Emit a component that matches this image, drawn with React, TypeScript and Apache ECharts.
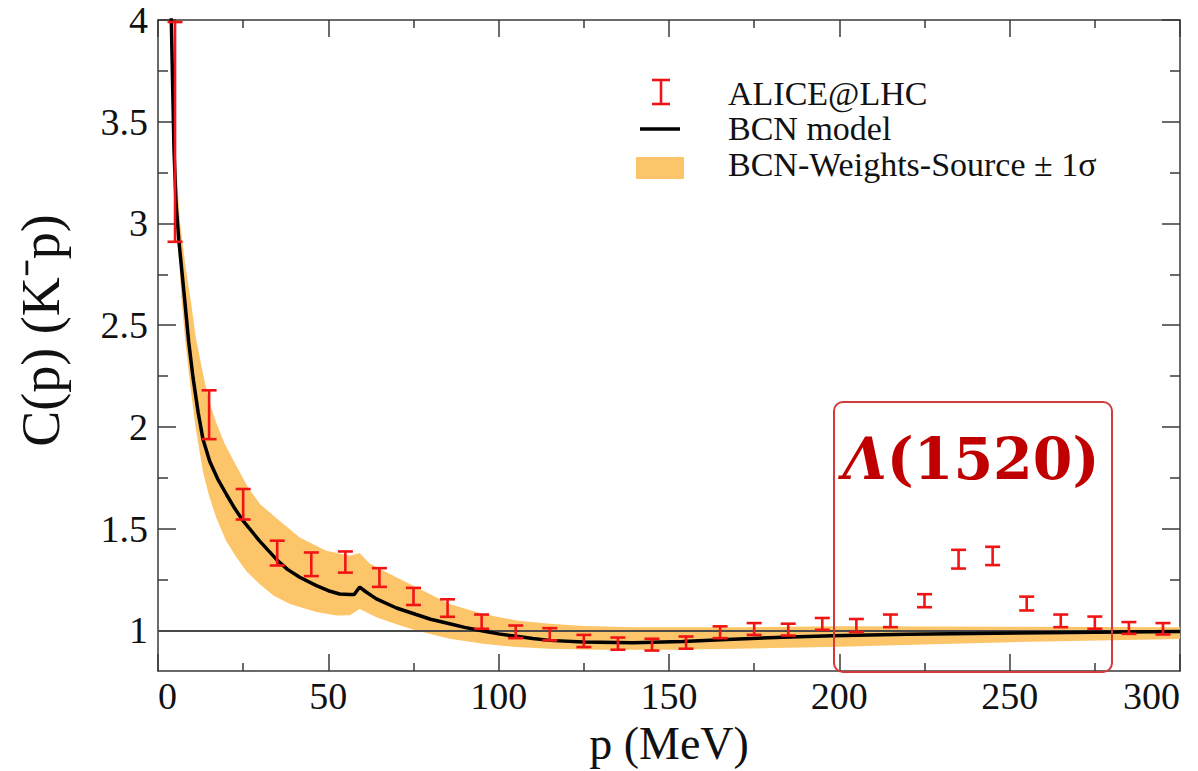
import React, { useEffect, useRef } from 'react';
import * as echarts from 'echarts';

// ALICE@LHC data points: momentum, C(p) centre, half error
const aliceP = [5, 15, 25, 35, 45, 55, 65, 75, 85, 95, 105, 115, 125, 135, 145, 155, 165, 175, 185, 195, 205, 215, 225, 235, 245, 255, 265, 275, 285, 295];
const aliceC = [3.45, 2.06, 1.62, 1.38, 1.325, 1.336, 1.26, 1.167, 1.11, 1.043, 0.993, 0.981, 0.948, 0.935, 0.93, 0.94, 0.991, 1.007, 1.004, 1.032, 1.024, 1.047, 1.146, 1.35, 1.366, 1.132, 1.047, 1.038, 1.012, 1.008];
const aliceErr = [0.54, 0.12, 0.075, 0.061, 0.058, 0.052, 0.046, 0.042, 0.043, 0.035, 0.031, 0.03, 0.03, 0.03, 0.029, 0.03, 0.029, 0.029, 0.029, 0.029, 0.032, 0.031, 0.032, 0.046, 0.045, 0.034, 0.031, 0.03, 0.029, 0.028];

// BCN model curve
const modelP = [3.6, 3.9, 4.7, 5.3, 6.1, 7.8, 9, 10.3, 11.8, 13.2, 15.2, 17.5, 20.1, 22.5, 25, 29.8, 34.7, 38, 41.6, 46.5, 50, 53.3, 56.3, 57.6, 59.2, 61, 64.1, 70, 75.8, 80, 85.6, 90, 95.4, 100, 105.2, 110, 115, 124.7, 139.4, 154, 168.7, 183.4, 198, 220, 252, 275, 300];
const modelC = [4.3, 4.0, 3.36, 3.1, 2.92, 2.63, 2.42, 2.24, 2.07, 1.94, 1.83, 1.745, 1.668, 1.6, 1.538, 1.44, 1.35, 1.3, 1.261, 1.22, 1.195, 1.179, 1.176, 1.176, 1.213, 1.19, 1.155, 1.11, 1.078, 1.055, 1.033, 1.015, 0.997, 0.983, 0.971, 0.96, 0.951, 0.943, 0.939, 0.946, 0.957, 0.966, 0.974, 0.981, 0.987, 0.991, 0.995];

// BCN-Weights-Source ±1σ band edges
const bandUpP = [5.2, 6.5, 8, 9.8, 11, 12.5, 14, 15.7, 17.1, 19.5, 22, 26.5, 30, 34.7, 41.6, 49.4, 56.3, 59.2, 62, 66, 75.8, 85.6, 95.4, 105.2, 115, 125, 140, 170, 200, 250, 300];
const bandUpC = [3.3, 3.0, 2.8, 2.6, 2.45, 2.32, 2.2, 2.09, 2.02, 1.92, 1.84, 1.7, 1.62, 1.553, 1.456, 1.391, 1.367, 1.38, 1.33, 1.294, 1.212, 1.13, 1.081, 1.049, 1.033, 1.022, 1.015, 1.016, 1.02, 1.018, 1.016];
const bandLoP = [4.9, 5.8, 6.9, 8, 9.5, 11, 13.2, 15, 17.1, 20, 23, 26, 29.8, 34, 38.7, 46.5, 52.4, 56.3, 59.2, 61, 64.1, 70, 75.8, 85.6, 95.4, 105.2, 115, 130, 150, 170, 200, 250, 300];
const bandLoC = [3.3, 2.92, 2.63, 2.42, 2.2, 2.0, 1.78, 1.66, 1.554, 1.44, 1.359, 1.29, 1.228, 1.17, 1.13, 1.09, 1.073, 1.075, 1.105, 1.09, 1.065, 1.03, 1.0, 0.959, 0.935, 0.918, 0.91, 0.905, 0.905, 0.91, 0.92, 0.942, 0.958];

// axis ticks
const yMajor = [1, 1.5, 2, 2.5, 3, 3.5, 4];
const yMinor = [1.25, 1.75, 2.25, 2.75, 3.25, 3.75];

const RED = '#f01515';
const ORANGE = '#fdc56a';
const FRAME = '#3a3a3a';
const SERIF = 'Liberation Serif, Times New Roman, serif';

export default function App() {
  const ref = useRef<HTMLDivElement>(null);
  useEffect(() => {
    const chart = echarts.init(ref.current as HTMLDivElement, null, { renderer: 'svg' });
    const yBase = { type: 'value', min: 0.8, max: 4, splitLine: { show: false } };
    const option: any = {
      animation: false,
      backgroundColor: '#ffffff',
      textStyle: { fontFamily: SERIF },
      grid: { left: 158, top: 20, right: 18, bottom: 97 },
      xAxis: [
        {
          type: 'value', position: 'bottom', min: 0, max: 300, interval: 50,
          axisLine: { show: true, lineStyle: { color: FRAME, width: 1.5 } },
          axisTick: { show: true, inside: true, length: 17, lineStyle: { color: FRAME, width: 1.5 } },
          minorTick: { show: true, splitNumber: 2, length: 8, lineStyle: { color: FRAME, width: 1.5 } },
          axisLabel: { fontSize: 38, fontFamily: SERIF, color: '#111', margin: 6, alignMinLabel: 'left', alignMaxLabel: 'right' },
          splitLine: { show: false },
          name: 'p (MeV)', nameLocation: 'middle', nameGap: 40,
          nameTextStyle: { fontSize: 46, fontFamily: SERIF, color: '#111' },
        },
        {
          type: 'value', position: 'top', min: 0, max: 300, interval: 50,
          axisLine: { show: true, lineStyle: { color: FRAME, width: 1.5 } },
          axisTick: { show: true, inside: true, length: 17, lineStyle: { color: FRAME, width: 1.5 } },
          minorTick: { show: true, splitNumber: 2, length: 8, lineStyle: { color: FRAME, width: 1.5 } },
          axisLabel: { show: false },
          splitLine: { show: false },
        },
      ],
      yAxis: [
        {
          ...yBase, position: 'left',
          axisLine: { show: true, lineStyle: { color: FRAME, width: 1.5 } },
          axisTick: { show: true, inside: true, length: 18, customValues: yMajor, lineStyle: { color: FRAME, width: 1.5 } },
          axisLabel: { customValues: yMajor, fontSize: 38, fontFamily: SERIF, color: '#111', margin: 10 },
          name: 'C(p) (K\u207Bp)', nameLocation: 'middle', nameGap: 90, nameRotate: 90,
          nameTextStyle: { fontSize: 54, fontFamily: SERIF, color: '#111', padding: [0, 0, 0, 30] },
        },
        {
          ...yBase, position: 'left',
          axisLine: { show: false },
          axisTick: { show: true, inside: true, length: 10, customValues: yMinor, lineStyle: { color: FRAME, width: 1.5 } },
          axisLabel: { show: false },
        },
        {
          ...yBase, position: 'right',
          axisLine: { show: true, lineStyle: { color: FRAME, width: 1.5 } },
          axisTick: { show: true, inside: true, length: 18, customValues: yMajor, lineStyle: { color: FRAME, width: 1.5 } },
          axisLabel: { show: false },
        },
        {
          ...yBase, position: 'right',
          axisLine: { show: false },
          axisTick: { show: true, inside: true, length: 10, customValues: yMinor, lineStyle: { color: FRAME, width: 1.5 } },
          axisLabel: { show: false },
        },
      ],
      series: [
        {
          name: 'BCN-Weights-Source ± 1σ',
          type: 'custom',
          xAxisIndex: 0, yAxisIndex: 0,
          z: 1,
          silent: true,
          data: [[0, 1]],
          renderItem: (_params: any, api: any) => {
            const pts: number[][] = [];
            for (let i = 0; i < bandUpP.length; i++) pts.push(api.coord([bandUpP[i], bandUpC[i]]));
            for (let i = bandLoP.length - 1; i >= 0; i--) pts.push(api.coord([bandLoP[i], bandLoC[i]]));
            return { type: 'polygon', shape: { points: pts }, style: { fill: ORANGE } };
          },
        },
        {
          name: 'BCN model',
          type: 'line',
          xAxisIndex: 0, yAxisIndex: 0,
          z: 3,
          clip: true,
          showSymbol: false,
          symbol: 'none',
          data: modelP.map((p, i) => [p, modelC[i]]),
          lineStyle: { color: '#000', width: 3.5 },
          markLine: {
            silent: true,
            symbol: 'none',
            z: 2,
            label: { show: false },
            lineStyle: { color: '#4a4a4a', width: 2, type: 'solid' },
            data: [{ yAxis: 1 }],
          },
        },
        {
          name: 'ALICE@LHC',
          type: 'custom',
          xAxisIndex: 0, yAxisIndex: 0,
          z: 4,
          data: aliceP.map((p, i) => [p, aliceC[i] - aliceErr[i], aliceC[i] + aliceErr[i]]),
          encode: { x: 0, y: [1, 2] },
          renderItem: (_params: any, api: any) => {
            const x = api.value(0);
            const lo = api.coord([x, api.value(1)]);
            const hi = api.coord([x, api.value(2)]);
            const w = 7.5;
            const st = { stroke: RED, lineWidth: 2.6 };
            return {
              type: 'group',
              children: [
                { type: 'line', shape: { x1: hi[0], y1: hi[1], x2: lo[0], y2: lo[1] }, style: st },
                { type: 'line', shape: { x1: hi[0] - w, y1: hi[1], x2: hi[0] + w, y2: hi[1] }, style: st },
                { type: 'line', shape: { x1: lo[0] - w, y1: lo[1], x2: lo[0] + w, y2: lo[1] }, style: st },
              ],
            };
          },
        },
      ],
      graphic: [
        // legend: error bar icon
        { type: 'line', shape: { x1: 661, y1: 80, x2: 661, y2: 104 }, style: { stroke: RED, lineWidth: 2.6 } },
        { type: 'line', shape: { x1: 652, y1: 80, x2: 670, y2: 80 }, style: { stroke: RED, lineWidth: 2.6 } },
        { type: 'line', shape: { x1: 652, y1: 104, x2: 670, y2: 104 }, style: { stroke: RED, lineWidth: 2.6 } },
        { type: 'text', x: 728, y: 93, style: { text: 'ALICE@LHC', fontSize: 34, fontFamily: SERIF, fill: '#111', align: 'left', verticalAlign: 'middle' } },
        // legend: model line
        { type: 'line', shape: { x1: 640, y1: 129, x2: 680, y2: 129 }, style: { stroke: '#000', lineWidth: 3.5 } },
        { type: 'text', x: 728, y: 128, style: { text: 'BCN model', fontSize: 34, fontFamily: SERIF, fill: '#111', align: 'left', verticalAlign: 'middle' } },
        // legend: band
        { type: 'rect', shape: { x: 636, y: 157, width: 48, height: 22 }, style: { fill: ORANGE } },
        { type: 'text', x: 728, y: 164, style: { text: 'BCN-Weights-Source ± 1σ', fontSize: 34, fontFamily: SERIF, fill: '#111', align: 'left', verticalAlign: 'middle' } },
        // Λ(1520) annotation box
        { type: 'rect', z: 10, shape: { x: 834, y: 402, width: 278, height: 270, r: 9 }, style: { fill: 'none', stroke: '#d33a3a', lineWidth: 2 } },
        {
          type: 'text', z: 10, x: 971, y: 458,
          style: {
            text: '{a|Λ}{b|(1520)}',
            align: 'center', verticalAlign: 'middle',
            rich: {
              a: { fontSize: 57, fontWeight: 'bold', fontStyle: 'italic', fontFamily: 'DejaVu Serif, serif', fill: '#c00000', color: '#c00000' },
              b: { fontSize: 57, fontWeight: 'bold', fontFamily: 'DejaVu Serif, serif', fill: '#c00000', color: '#c00000' },
            },
          },
        },
      ],
    };
    chart.setOption(option);
    return () => chart.dispose();
  }, []);
  return <div ref={ref} style={{ position: 'fixed', left: 0, top: 0, width: 1198, height: 771, background: '#fff' }} />;
}
